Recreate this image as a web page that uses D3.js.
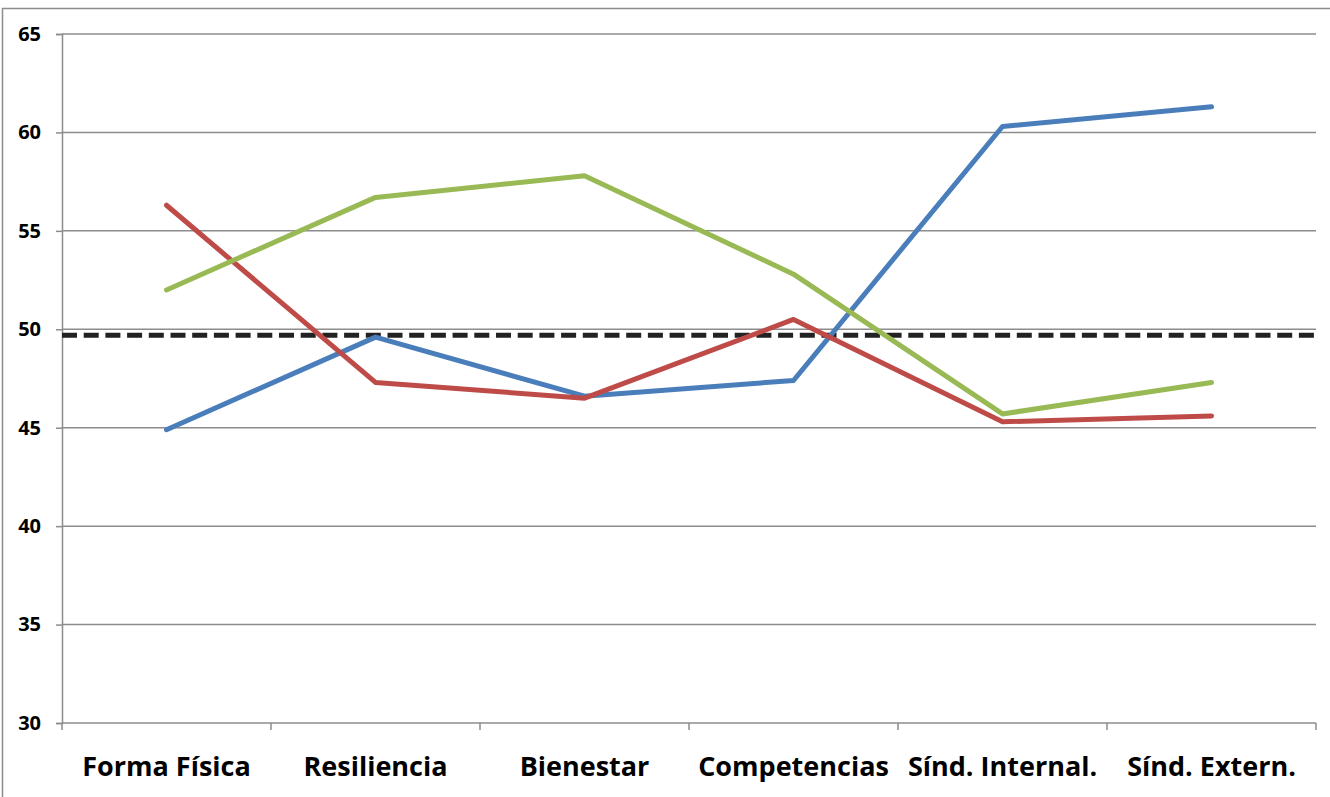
<!DOCTYPE html>
<html>
<head>
<meta charset="utf-8">
<script src="https://cdn.jsdelivr.net/npm/d3@7"></script>
<style>
  body { margin: 0; background: #fff; }
  svg { display: block; font-family: "Open Sans", "DejaVu Sans", sans-serif; }
</style>
</head>
<body>
<svg id="svg" width="1330" height="797"></svg>
<script>
const categories = ["Forma Física", "Resiliencia", "Bienestar", "Competencias", "Sínd. Internal.", "Sínd. Extern."];
const blueValues = [44.9, 49.6, 46.6, 47.4, 60.3, 61.3];
const redValues = [56.3, 47.3, 46.5, 50.5, 45.3, 45.6];
const greenValues = [52.0, 56.7, 57.8, 52.8, 45.7, 47.3];
const referenceValue = 49.7;
const yTicks = [30, 35, 40, 45, 50, 55, 60, 65];

const svg = d3.select("#svg");
const plotLeft = 62, plotRight = 1316, plotTop = 34, plotBottom = 723;

// outer chart border
svg.append("rect")
  .attr("x", 2.5).attr("y", 8.5)
  .attr("width", 1340).attr("height", 800)
  .attr("fill", "none").attr("stroke", "#8c8c8c").attr("stroke-width", 1.5);

const x = d3.scaleBand().domain(categories).range([plotLeft, plotRight]);
const y = d3.scaleLinear().domain([30, 65]).range([plotBottom, plotTop]);

// gridlines
svg.append("g")
  .selectAll("line")
  .data(yTicks.filter(d => d > 30))
  .join("line")
  .attr("x1", plotLeft).attr("x2", plotRight)
  .attr("y1", d => y(d)).attr("y2", d => y(d))
  .attr("stroke", "#8c8c8c").attr("stroke-width", 1.5);

// y axis
const yAxis = svg.append("g")
  .attr("transform", `translate(${plotLeft},0)`)
  .call(d3.axisLeft(y).tickValues(yTicks).tickSize(6).tickPadding(15));
yAxis.select(".domain").attr("stroke", "#8c8c8c").attr("stroke-width", 1.5);
yAxis.selectAll(".tick line").attr("stroke", "#8c8c8c").attr("stroke-width", 1.5);
yAxis.selectAll(".tick text")
  .attr("fill", "#000").attr("font-size", 20).attr("font-weight", "bold")
  .attr("font-family", "\"Open Sans\", sans-serif");

// x axis
const xAxis = svg.append("g")
  .attr("transform", `translate(0,${plotBottom})`)
  .call(d3.axisBottom(x).tickSize(0).tickPadding(34));
xAxis.select(".domain").remove();
xAxis.append("line")
  .attr("x1", plotLeft).attr("x2", plotRight)
  .attr("stroke", "#8c8c8c").attr("stroke-width", 1.5);
xAxis.selectAll(".sep")
  .data(categories.concat([null]))
  .join("line")
  .attr("class", "sep")
  .attr("x1", (d, i) => plotLeft + i * x.bandwidth())
  .attr("x2", (d, i) => plotLeft + i * x.bandwidth())
  .attr("y1", 0).attr("y2", 7)
  .attr("stroke", "#8c8c8c").attr("stroke-width", 1.5);
xAxis.selectAll(".tick text")
  .attr("fill", "#000").attr("font-size", 27).attr("font-weight", "bold")
  .attr("font-family", "\"Open Sans\", sans-serif")
  .attr("dy", "0.71em");

// reference dashed line
svg.append("line")
  .attr("x1", plotLeft).attr("x2", plotRight)
  .attr("y1", y(referenceValue)).attr("y2", y(referenceValue))
  .attr("stroke", "#222").attr("stroke-width", 5)
  .attr("stroke-dasharray", "15 6.7");

const line = d3.line()
  .x((d, i) => x(categories[i]) + x.bandwidth() / 2)
  .y(d => y(d));

const series = [
  { values: blueValues, color: "#4a7ebb" },
  { values: redValues, color: "#be4b48" },
  { values: greenValues, color: "#98b954" }
];

svg.append("g")
  .selectAll("path")
  .data(series)
  .join("path")
  .attr("d", d => line(d.values))
  .attr("fill", "none")
  .attr("stroke", d => d.color)
  .attr("stroke-width", 5)
  .attr("stroke-linecap", "round")
  .attr("stroke-linejoin", "round");
</script>
</body>
</html>
